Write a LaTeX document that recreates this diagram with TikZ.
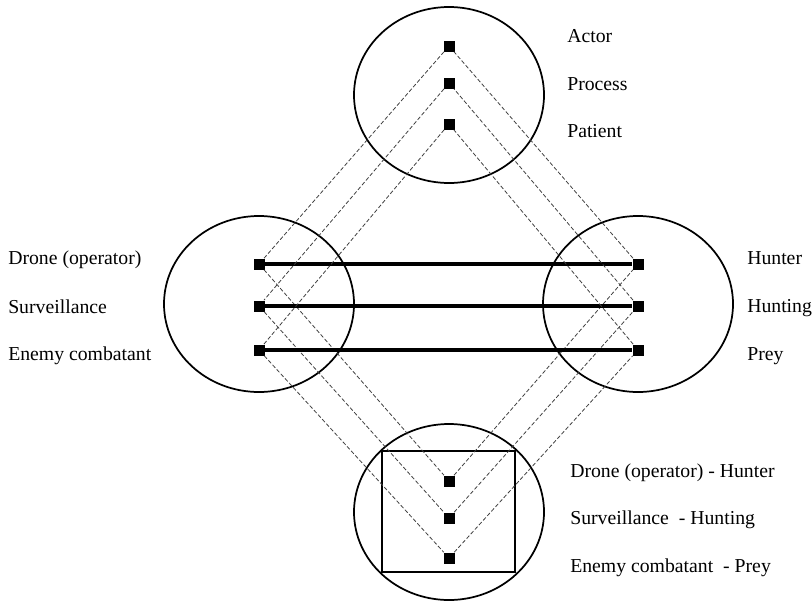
\documentclass[tikz,border=0pt]{standalone}
\usepackage{fontspec}
\setmainfont{Liberation Serif}
\begin{document}
\begin{tikzpicture}[x=0.75pt,y=-0.75pt,
    punto/.style={fill=black,minimum size=8.25pt,inner sep=0pt},
    etichetta/.style={anchor=base west,inner sep=0pt,font=\fontsize{14.8}{17}\selectfont},
    tratteggio/.style={line width=0.6pt,black!75,dash pattern=on 3pt off 1.6pt},
    linea/.style={line width=2.6pt},
    bordo/.style={line width=1.3pt}]
    \useasboundingbox (0,0) rectangle (812,603);

    % Cerchi principali
    \draw[bordo] (449,95) ellipse (95 and 88);
    \draw[bordo] (259,304) ellipse (95 and 88);
    \draw[bordo] (638,304) ellipse (95 and 88);
    \draw[bordo] (449,512) ellipse (95 and 88);
    \draw[bordo] (382,451) rectangle (515,572);

    % Punti (n=1,2,3)
    \foreach \n/\yt/\ym/\yb in {1/46/264/481, 2/83/306/518, 3/124/350/558} {
        \node[punto] (t\n) at (449,\yt) {};
        \node[punto] (l\n) at (259,\ym) {};
        \node[punto] (r\n) at (638,\ym) {};
        \node[punto] (b\n) at (449,\yb) {};
    }

    % Linee tratteggiate e linee piene
    \foreach \n in {1,2,3} {
        \draw[tratteggio] (t\n) -- (l\n) -- (b\n) -- (r\n) -- (t\n);
        \draw[linea] (l\n) -- (r\n);
    }

    % Etichette
    \node[etichetta] (actor) at (567,42) {Actor};
    \node[etichetta] (process) at (567,90) {Process};
    \node[etichetta] (patient) at (567,137) {Patient};
    \node[etichetta] (drone) at (8,264) {Drone (operator)};
    \node[etichetta] (surv) at (8,313) {Surveillance};
    \node[etichetta] (enemy) at (8,360) {Enemy combatant};
    \node[etichetta] (hunter) at (747,264) {Hunter};
    \node[etichetta] (hunting) at (747,312) {Hunting};
    \node[etichetta] (prey) at (747,360) {Prey};
    \node[etichetta] (dronehunter) at (570,477) {Drone (operator) - Hunter};
    \node[etichetta] (survhunting) at (570,524) {Surveillance\ \ - Hunting};
    \node[etichetta] (enemyprey) at (570,572) {Enemy combatant\ \ - Prey};
\end{tikzpicture}
\end{document}
